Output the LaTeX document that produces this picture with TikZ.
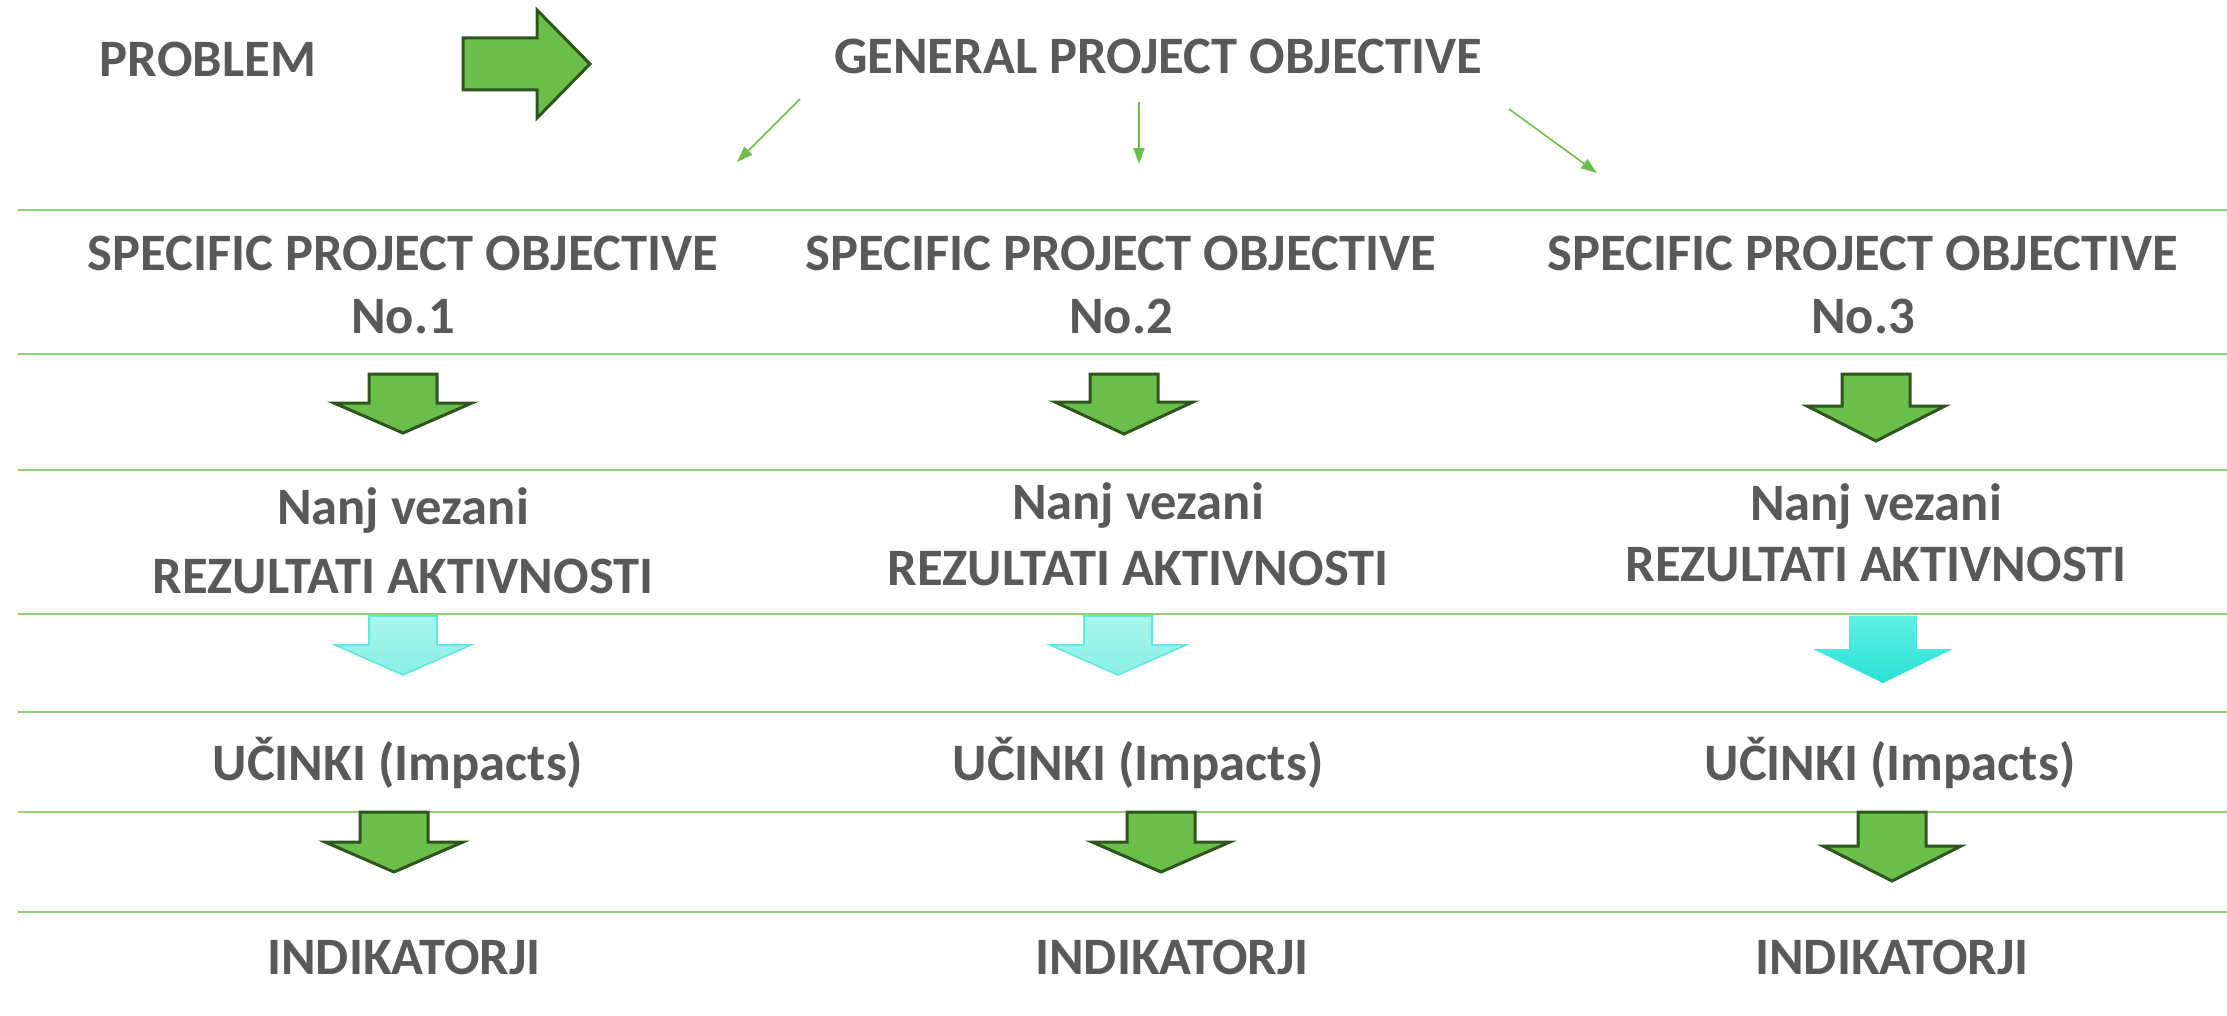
\documentclass[tikz,border=0pt]{standalone}
\usepackage{fontspec}
\setmainfont{Carlito}
\usetikzlibrary{arrows.meta}

\definecolor{textgrey}{RGB}{89,89,89}
\definecolor{rulegreen}{RGB}{146,208,120}
\definecolor{arrowgreen}{RGB}{108,190,74}
\definecolor{edgegreen}{RGB}{45,85,28}
\definecolor{palecyantop}{RGB}{170,244,236}
\definecolor{palecyanbot}{RGB}{136,240,230}
\definecolor{palecyanedge}{RGB}{96,234,222}
\definecolor{cyantop}{RGB}{96,240,228}
\definecolor{cyanbot}{RGB}{40,224,212}

\begin{document}
\begin{tikzpicture}[%
        x = 0.5pt, y = -0.5pt,
        caption/.style = {%
            text = textgrey,
            font = \fontsize{26.3}{31.5}\selectfont\bfseries,
            align = center,
            inner sep = 0pt,
            anchor = base
        },
        rule/.style = {rulegreen, line width = 1.4pt},
        thinarrow/.style = {%
            -{Triangle[length = 8pt, width = 5.5pt]},
            arrowgreen, line width = 0.8pt
        },
        greenblock/.style = {%
            fill = arrowgreen, draw = edgegreen,
            line width = 1.5pt, line join = miter
        },
        paleblock/.style = {%
            top color = palecyantop, bottom color = palecyanbot,
            draw = palecyanedge, line width = 0.8pt
        },
        cyanblock/.style = {%
            top color = cyantop, bottom color = cyanbot,
            draw = none
        }
    ]

        % Page frame (pixel grid of the reference).
        \useasboundingbox (0,0) rectangle (2227,1016);

        % Horizontal rules between the rows.
        \foreach \y in {210, 354, 470, 614, 712, 812, 912}{%
            \draw[rule] (18,\y) -- (2227,\y);
        }

        % Top row: problem, big arrow, general objective.
        \node[caption] (problem) at (208,77) {PROBLEM};
        \draw[greenblock] (463,38) -- (537,38) -- (537,10) -- (590,64)
            -- (537,118) -- (537,90) -- (463,90) -- cycle;
        \node[caption] (general) at (1158,74) {GENERAL PROJECT OBJECTIVE};

        % Thin arrows from the general objective.
        \coordinate (g1) at (800,99);
        \coordinate (g2) at (1139,102);
        \coordinate (g3) at (1509,109);
        \coordinate (s1) at (737,162);
        \coordinate (s2) at (1139,164);
        \coordinate (s3) at (1597,173);
        \draw[thinarrow] (g1) -- (s1);
        \draw[thinarrow] (g2) -- (s2);
        \draw[thinarrow] (g3) -- (s3);

        % Specific objectives (base = last line).
        \node[caption] (spec1) at (403,333) {SPECIFIC PROJECT OBJECTIVE\\No.1};
        \node[caption] (spec2) at (1121,333) {SPECIFIC PROJECT OBJECTIVE\\No.2};
        \node[caption] (spec3) at (1863,333) {SPECIFIC PROJECT OBJECTIVE\\No.3};

        % Green block arrows under the objectives.
        \foreach \cx/\top/\hy/\ty in {403/374/403/433, 1124/374/402/434, 1876/374/406/441}{%
            \draw[greenblock] ({\cx-34},\top) -- ({\cx+34},\top) -- ({\cx+34},\hy)
                -- ({\cx+69},\hy) -- (\cx,\ty) -- ({\cx-69},\hy)
                -- ({\cx-34},\hy) -- cycle;
        }

        % Activity results.
        \node[caption, font = \fontsize{26.3}{34.5}\selectfont\bfseries] (rez1) at (403,593) {Nanj vezani\\REZULTATI AKTIVNOSTI};
        \node[caption, font = \fontsize{26.3}{33}\selectfont\bfseries] (rez2) at (1138,585) {Nanj vezani\\REZULTATI AKTIVNOSTI};
        \node[caption, font = \fontsize{26.3}{30.5}\selectfont\bfseries] (rez3) at (1876,581) {Nanj vezani\\REZULTATI AKTIVNOSTI};

        % Cyan block arrows (two pale, one bright).
        \foreach \cx in {403, 1118}{%
            \draw[paleblock] ({\cx-34},616) -- ({\cx+34},616) -- ({\cx+34},645)
                -- ({\cx+68},645) -- (\cx,675) -- ({\cx-68},645)
                -- ({\cx-34},645) -- cycle;
        }
        \draw[cyanblock] (1849,616) -- (1917,616) -- (1917,649) -- (1953,649)
            -- (1883,683) -- (1813,649) -- (1849,649) -- cycle;

        % Impacts.
        \node[caption] (ucin1) at (398,780) {UČINKI (Impacts)};
        \node[caption] (ucin2) at (1138,780) {UČINKI (Impacts)};
        \node[caption] (ucin3) at (1890,780) {UČINKI (Impacts)};

        % Green block arrows under the impacts.
        \foreach \cx/\hy/\ty in {394/842/872, 1161/842/872, 1892/846/881}{%
            \draw[greenblock] ({\cx-34},812) -- ({\cx+34},812) -- ({\cx+34},\hy)
                -- ({\cx+69},\hy) -- (\cx,\ty) -- ({\cx-69},\hy)
                -- ({\cx-34},\hy) -- cycle;
        }

        % Indicators.
        \node[caption] (ind1) at (404,974) {INDIKATORJI};
        \node[caption] (ind2) at (1172,974) {INDIKATORJI};
        \node[caption] (ind3) at (1892,974) {INDIKATORJI};
    \end{tikzpicture}
\end{document}
